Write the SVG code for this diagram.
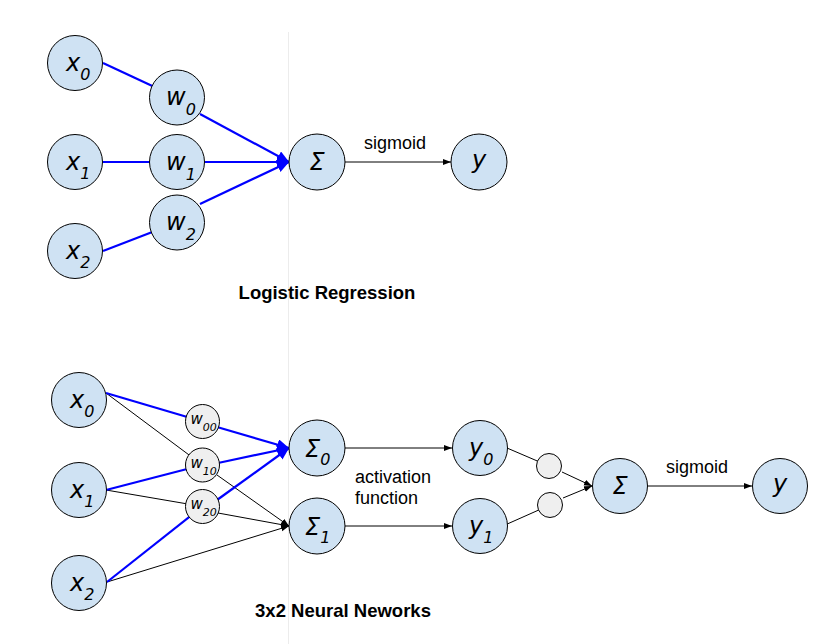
<svg xmlns="http://www.w3.org/2000/svg" width="835" height="644" viewBox="0 0 835 644">
<defs>
<marker id="ab" markerUnits="userSpaceOnUse" markerWidth="14" markerHeight="12" refX="12" refY="5.5" orient="auto"><path d="M0,0 L12,5.5 L0,11 z" fill="#0000ff"/></marker>
<marker id="ak" markerUnits="userSpaceOnUse" markerWidth="10" markerHeight="8" refX="8" refY="3" orient="auto"><path d="M0,0 L8,3 L0,6 z" fill="#000"/></marker>
</defs>
<style>
.n{fill:#cfe2f3;stroke:#000;stroke-width:1}
.g{fill:#efefef;stroke:#000;stroke-width:1}
.t{font-family:"DejaVu Sans",Verdana,sans-serif;font-style:italic;font-size:24px;fill:#000}
.ts{font-size:16px}
.tw{font-family:"DejaVu Sans",Verdana,sans-serif;font-style:italic;font-size:15px;fill:#000}
.tws{font-size:11px}
.lab{font-family:"Liberation Sans",Arial,sans-serif;font-size:18px;fill:#000}
.ttl{font-family:"Liberation Sans",Arial,sans-serif;font-size:18.5px;font-weight:bold;fill:#000}
.b{stroke:#0000ff;stroke-width:2.2;fill:none}
.k{stroke:#000;stroke-width:1;fill:none}
</style>
<rect width="835" height="644" fill="#fff"/>
<line x1="288.5" y1="32" x2="288.5" y2="644" stroke="#ececec" stroke-width="1"/>
<g id="connectors">
<line class="b" x1="103" y1="63" x2="177" y2="97.5"/>
<line class="b" x1="200" y1="114" x2="289" y2="162" marker-end="url(#ab)"/>
<line class="b" x1="103" y1="162" x2="177" y2="162"/>
<line class="b" x1="205" y1="162" x2="289" y2="162" marker-end="url(#ab)"/>
<line class="b" x1="103" y1="251" x2="177" y2="222.5"/>
<line class="b" x1="200" y1="204" x2="289" y2="162" marker-end="url(#ab)"/>
<line class="k" x1="345" y1="162" x2="451" y2="162" marker-end="url(#ak)"/>
<line class="k" x1="106" y1="393" x2="202.5" y2="465"/>
<line class="k" x1="217" y1="475" x2="289" y2="526" marker-end="url(#ak)"/>
<line class="k" x1="106" y1="490" x2="202.5" y2="506.5"/>
<line class="k" x1="218" y1="513" x2="289" y2="526" marker-end="url(#ak)"/>
<line class="k" x1="107" y1="582" x2="289" y2="526" marker-end="url(#ak)"/>
<line class="b" x1="106" y1="393" x2="202.5" y2="421.5"/>
<line class="b" x1="217" y1="427" x2="289" y2="448" marker-end="url(#ab)"/>
<line class="b" x1="106" y1="490" x2="202.5" y2="465"/>
<line class="b" x1="218" y1="463" x2="289" y2="448" marker-end="url(#ab)"/>
<line class="b" x1="107" y1="582" x2="202.5" y2="506.5"/>
<line class="b" x1="217" y1="500" x2="289" y2="448" marker-end="url(#ab)"/>
<line class="k" x1="345" y1="448" x2="452" y2="448" marker-end="url(#ak)"/>
<line class="k" x1="345" y1="526" x2="452" y2="526" marker-end="url(#ak)"/>
<line class="k" x1="507" y1="448" x2="549" y2="466"/>
<line class="k" x1="562" y1="472" x2="592" y2="486" marker-end="url(#ak)"/>
<line class="k" x1="505" y1="525" x2="550" y2="505"/>
<line class="k" x1="563" y1="498" x2="592" y2="486" marker-end="url(#ak)"/>
<line class="k" x1="648" y1="486" x2="752" y2="486" marker-end="url(#ak)"/>
</g>
<g id="lr-x0"><circle class="n" cx="75" cy="63" r="27.5"/><text class="t" x="66" y="71">x<tspan class="ts" dy="9">0</tspan></text></g>
<g id="lr-x1"><circle class="n" cx="75" cy="162" r="27.5"/><text class="t" x="66" y="170">x<tspan class="ts" dy="9">1</tspan></text></g>
<g id="lr-x2"><circle class="n" cx="75" cy="251" r="27.5"/><text class="t" x="66" y="259">x<tspan class="ts" dy="9">2</tspan></text></g>
<g id="lr-w0"><circle class="n" cx="177" cy="97.5" r="27.5"/><text class="t" x="166" y="105">w<tspan class="ts" dy="10">0</tspan></text></g>
<g id="lr-w1"><circle class="n" cx="177" cy="162" r="27.5"/><text class="t" x="166" y="170">w<tspan class="ts" dy="10">1</tspan></text></g>
<g id="lr-w2"><circle class="n" cx="177" cy="222.5" r="27.5"/><text class="t" x="166" y="230">w<tspan class="ts" dy="10">2</tspan></text></g>
<g id="lr-sum"><circle class="n" cx="317" cy="162" r="28"/><text class="t" x="317" y="170" text-anchor="middle">Σ</text></g>
<g id="lr-y"><circle class="n" cx="479" cy="162" r="28"/><text class="t" x="479" y="168" text-anchor="middle">y</text></g>
<text class="lab" x="395" y="149" text-anchor="middle">sigmoid</text>
<text class="ttl" x="327" y="299" text-anchor="middle">Logistic Regression</text>
<g id="nn-x0"><circle class="n" cx="79" cy="400" r="27.5"/><text class="t" x="70" y="408">x<tspan class="ts" dy="9">0</tspan></text></g>
<g id="nn-x1"><circle class="n" cx="79" cy="490" r="27.5"/><text class="t" x="70" y="498">x<tspan class="ts" dy="9">1</tspan></text></g>
<g id="nn-x2"><circle class="n" cx="79" cy="583" r="27.5"/><text class="t" x="70" y="591">x<tspan class="ts" dy="9">2</tspan></text></g>
<g id="nn-w00"><circle class="g" cx="202.5" cy="421.5" r="17"/><text class="tw" x="190.5" y="424">w<tspan class="tws" dy="7">00</tspan></text></g>
<g id="nn-w10"><circle class="g" cx="202.5" cy="465" r="17"/><text class="tw" x="190.5" y="467.5">w<tspan class="tws" dy="7">10</tspan></text></g>
<g id="nn-w20"><circle class="g" cx="202.5" cy="506.5" r="17"/><text class="tw" x="190.5" y="509">w<tspan class="tws" dy="7">20</tspan></text></g>
<g id="nn-s0"><circle class="n" cx="317" cy="448" r="28"/><text class="t" x="305" y="457">Σ<tspan class="ts" dy="8">0</tspan></text></g>
<g id="nn-s1"><circle class="n" cx="317" cy="526" r="28"/><text class="t" x="305" y="535">Σ<tspan class="ts" dy="8">1</tspan></text></g>
<g id="nn-y0"><circle class="n" cx="480" cy="448" r="27.5"/><text class="t" x="469" y="456">y<tspan class="ts" dy="9">0</tspan></text></g>
<g id="nn-y1"><circle class="n" cx="480" cy="526" r="27.5"/><text class="t" x="469" y="534">y<tspan class="ts" dy="9">1</tspan></text></g>
<g id="nn-g0"><circle class="g" cx="549" cy="466" r="12.5"/></g>
<g id="nn-g1"><circle class="g" cx="550" cy="505" r="12.5"/></g>
<g id="nn-sum"><circle class="n" cx="620" cy="486" r="27.5"/><text class="t" x="620" y="494" text-anchor="middle">Σ</text></g>
<g id="nn-y"><circle class="n" cx="780" cy="486" r="27.5"/><text class="t" x="780" y="492" text-anchor="middle">y</text></g>
<text class="lab" x="697" y="473" text-anchor="middle">sigmoid</text>
<text class="lab" x="355" y="483">activation</text>
<text class="lab" x="355" y="504">function</text>
<text class="ttl" x="343" y="617" text-anchor="middle">3x2 Neural Neworks</text>
</svg>
